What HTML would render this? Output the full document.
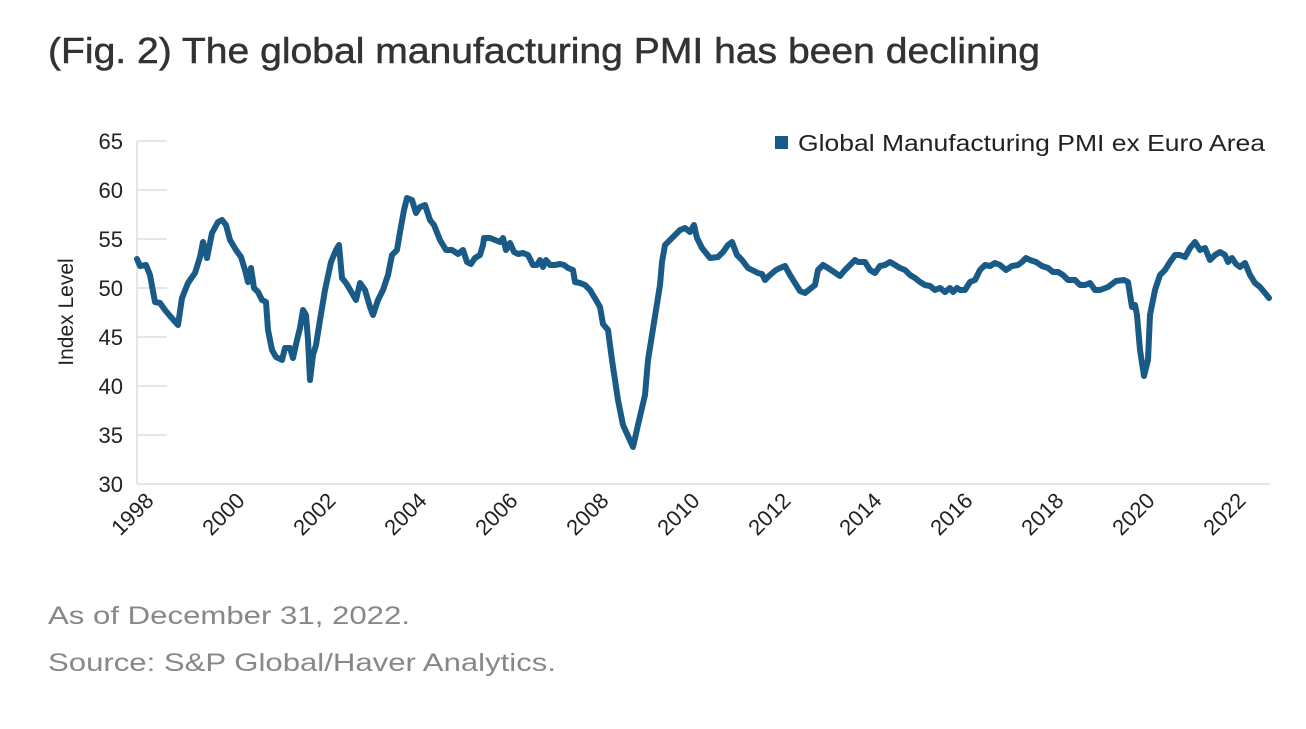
<!DOCTYPE html>
<html><head><meta charset="utf-8"><style>
body{margin:0;background:#fff;width:1306px;height:724px;overflow:hidden;font-family:"Liberation Sans",sans-serif}
</style></head><body>
<svg width="1306" height="724" xmlns="http://www.w3.org/2000/svg" font-family="Liberation Sans, sans-serif">
<text x="48" y="63" font-size="36" fill="#333" textLength="992" lengthAdjust="spacingAndGlyphs" stroke="#333" stroke-width="0.5">(Fig. 2) The global manufacturing PMI has been declining</text>
<g stroke="#ddd" stroke-width="1.5">
<line x1="137" y1="141" x2="137" y2="484"/>
<line x1="137" y1="484" x2="1270" y2="484"/>
<line x1="137" y1="141" x2="167" y2="141"/>
<line x1="137" y1="190" x2="167" y2="190"/>
<line x1="137" y1="239" x2="167" y2="239"/>
<line x1="137" y1="288" x2="167" y2="288"/>
<line x1="137" y1="337" x2="167" y2="337"/>
<line x1="137" y1="386" x2="167" y2="386"/>
<line x1="137" y1="435" x2="167" y2="435"/>
</g>
<g font-size="22" fill="#222" text-anchor="end">
<text x="123" y="149">65</text><text x="123" y="198">60</text><text x="123" y="247">55</text><text x="123" y="296">50</text><text x="123" y="345">45</text><text x="123" y="394">40</text><text x="123" y="443">35</text><text x="123" y="492">30</text>
</g>
<text transform="translate(73,312) rotate(-90)" font-size="21" fill="#222" text-anchor="middle">Index Level</text>
<g font-size="22" fill="#222" text-anchor="end">
<text transform="translate(155,502) rotate(-45)">1998</text>
<text transform="translate(246,502) rotate(-45)">2000</text>
<text transform="translate(337,502) rotate(-45)">2002</text>
<text transform="translate(428,502) rotate(-45)">2004</text>
<text transform="translate(519,502) rotate(-45)">2006</text>
<text transform="translate(610,502) rotate(-45)">2008</text>
<text transform="translate(701,502) rotate(-45)">2010</text>
<text transform="translate(792,502) rotate(-45)">2012</text>
<text transform="translate(883,502) rotate(-45)">2014</text>
<text transform="translate(974,502) rotate(-45)">2016</text>
<text transform="translate(1065,502) rotate(-45)">2018</text>
<text transform="translate(1156,502) rotate(-45)">2020</text>
<text transform="translate(1247,502) rotate(-45)">2022</text>
</g>
<rect x="775" y="136" width="13" height="13" fill="#1a5a86"/>
<text x="798" y="151" font-size="23" fill="#222" textLength="467" lengthAdjust="spacingAndGlyphs">Global Manufacturing PMI ex Euro Area</text>
<polyline fill="none" stroke="#1a5a86" stroke-width="6" stroke-linejoin="round" stroke-linecap="round" points="137,259 140,266 146,265 150,275 155,302 160,303 165,310 170,316 178,325 182,298 188,283 195,273 200,257 203,242 207,258 212,233 218,222 222,220 226,225 230,240 236,250 241,257 245,270 248,282 251,268 254,288 258,292 262,300 266,302 268,330 272,350 276,357 282,360 285,348 290,348 293,358 297,340 300,328 303,310 306,315 308,340 310,380 313,355 316,345 320,320 325,290 331,262 336,250 339,245 342,278 346,283 352,293 356,300 360,283 365,290 370,307 373,315 378,300 383,290 388,275 392,255 397,250 400,232 404,210 407,198 412,200 416,213 420,207 425,205 430,220 434,225 440,240 446,250 452,250 458,254 463,250 467,262 471,264 475,258 480,255 483,245 484,238 490,238 495,240 500,242 503,238 506,250 510,243 514,252 518,254 523,253 528,255 533,265 537,265 540,260 543,267 546,260 550,265 555,265 560,264 564,265 568,268 573,270 575,282 580,283 585,285 590,290 596,300 600,307 603,324 608,330 612,360 618,400 623,425 633,447 638,425 645,395 648,360 652,335 656,310 660,285 662,262 665,245 670,240 675,235 680,230 685,228 690,232 694,225 697,238 702,248 710,258 718,257 723,252 728,245 732,242 737,255 742,260 748,268 752,270 758,273 762,274 765,280 770,275 776,270 780,268 785,266 790,275 795,283 800,291 805,293 810,289 815,285 818,270 823,265 828,268 834,272 840,276 845,270 850,265 855,260 858,262 865,262 870,270 875,273 880,266 885,265 890,262 895,265 900,268 905,270 910,275 915,278 920,282 925,285 930,286 935,290 940,288 945,292 950,288 953,292 957,288 960,290 965,290 970,282 975,280 980,270 985,265 990,266 995,263 1000,265 1006,270 1012,266 1018,265 1022,262 1026,258 1030,260 1036,262 1042,266 1048,268 1053,272 1058,272 1063,275 1068,280 1075,280 1080,285 1085,285 1090,283 1095,290 1100,290 1108,287 1116,281 1124,280 1128,282 1132,307 1135,305 1137,315 1140,350 1144,376 1148,360 1150,315 1155,290 1160,275 1165,270 1170,262 1175,255 1180,255 1185,257 1190,248 1195,242 1200,250 1205,248 1210,260 1215,255 1220,252 1225,255 1228,262 1232,258 1236,264 1240,267 1245,263 1250,275 1255,283 1260,287 1265,293 1269,298"/>
<text x="48" y="624" font-size="25" fill="#888" textLength="362" lengthAdjust="spacingAndGlyphs">As of December 31, 2022.</text>
<text x="48" y="671" font-size="25" fill="#888" textLength="508" lengthAdjust="spacingAndGlyphs">Source: S&amp;P Global/Haver Analytics.</text>
</svg>
</body></html>
